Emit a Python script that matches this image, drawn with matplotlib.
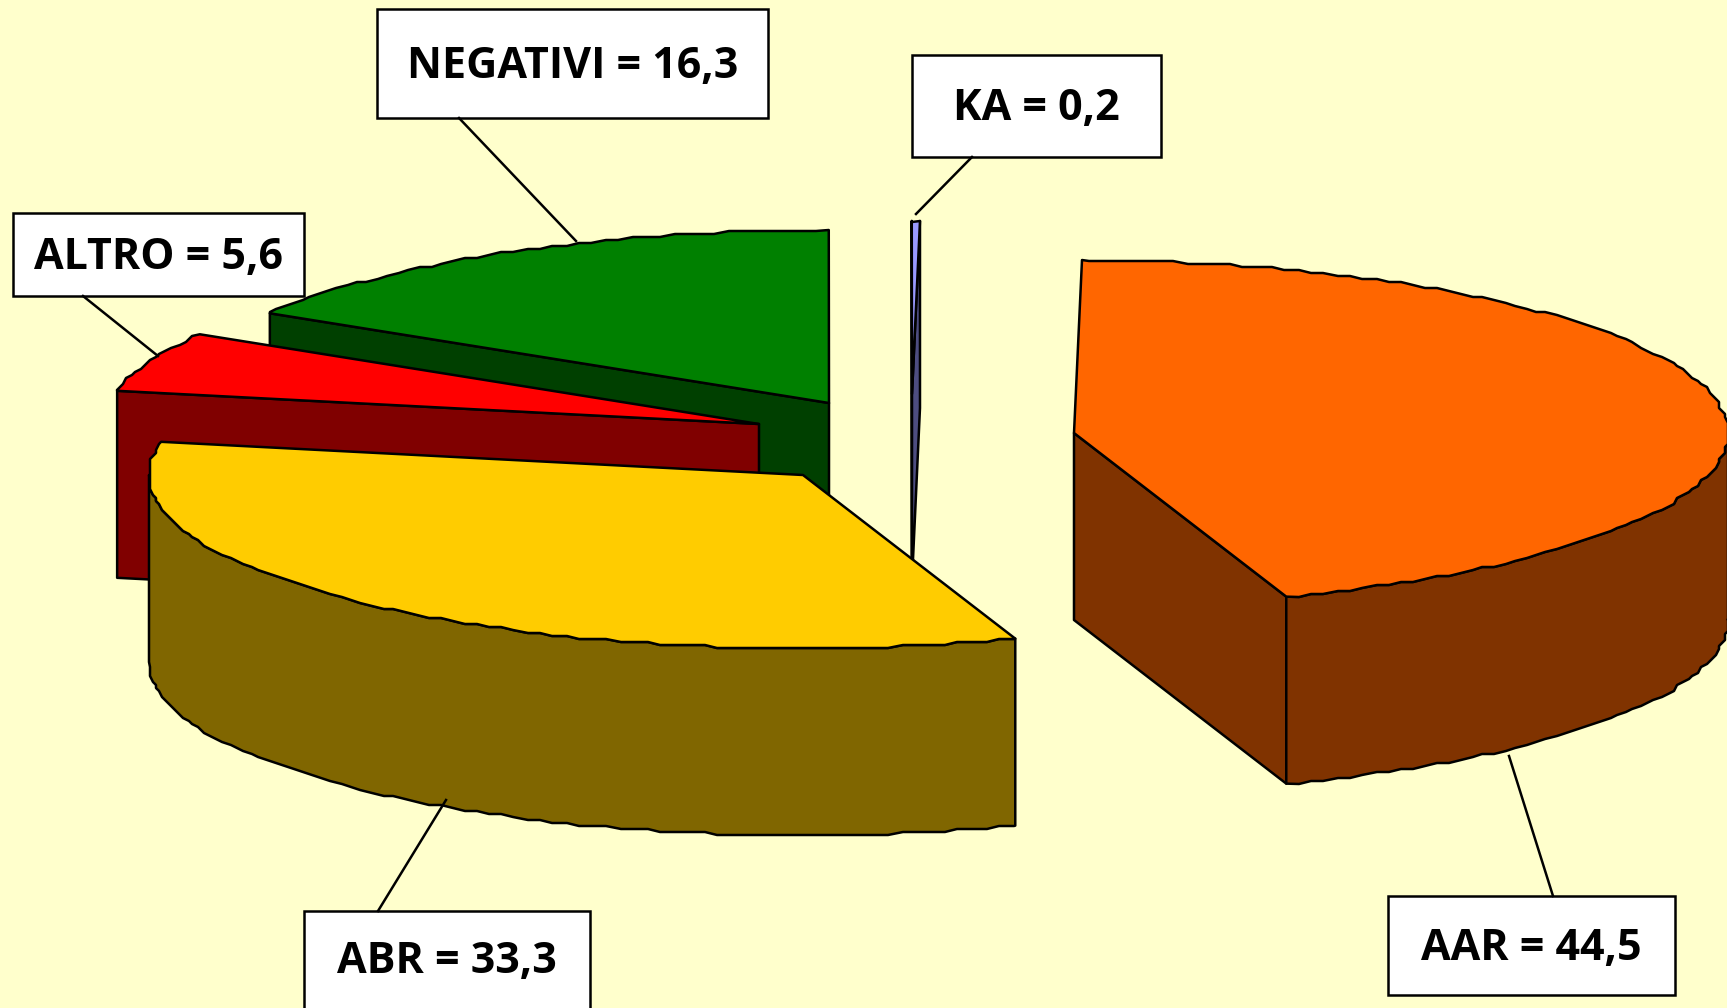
import matplotlib
matplotlib.use('Agg')
import matplotlib.pyplot as plt
import numpy as np

names = ['AAR', 'ABR', 'ALTRO', 'NEGATIVI', 'KA']
values = [44.5, 33.3, 5.6, 16.3, 0.2]
value_labels = ['44,5', '33,3', '5,6', '16,3', '0,2']

top_colors = ['#FF6600', '#FFCC00', '#FF0000', '#008000', '#9999FF']
side_colors = ['#803300', '#806600', '#800000', '#004000', '#4D4D80']

# exploded centres, pixels of the picture
centres = [(1074, 433), (803, 475), (759, 424), (829, 403), (912, 394)]
draw_order = [3, 2, 4, 1, 0]

# box x0, y0, x1, y1 and leader line from box to slice
boxes = [(1388, 896, 1675, 995), (304, 911, 590, 1020), (13, 213, 304, 296),
         (377, 9, 768, 118), (912, 55, 1161, 157)]
leaders = [((1553, 896), (1509, 756)), ((378, 911), (446, 800)), ((83, 296), (158, 356)),
           ((459, 118), (576, 241)), ((972, 157), (916, 214))]

rx = 654
ry = 173
depth = 187
start_angle = 0.7
grid = 3
line = 1.8


def rim_points(c, a0, a1):
    # clockwise from 12 o'clock, snapped to a grid so the edge is rough like the original
    inner = np.arange(np.ceil(a0 / 1.25) * 1.25, a1, 1.25)
    t = np.radians(np.concatenate(([a0], inner, [a1])))
    x = c[0] + rx * np.sin(t)
    y = c[1] - ry * np.cos(t)
    x[1:-1] = np.round(x[1:-1] / grid) * grid
    y[1:-1] = np.round(y[1:-1] / grid) * grid
    return x, y


def poly(ax, x, y, color):
    ax.fill(x, y, facecolor=color, edgecolor='black', linewidth=line, joinstyle='round')


fig = plt.figure(figsize=(17.27, 10.08), dpi=100, facecolor='#FFFFCC')
ax = fig.add_axes([0, 0, 1, 1])
ax.set_xlim(0, 1727)
ax.set_ylim(1008, 0)
ax.axis('off')

spans = np.array(values) / sum(values) * 360
starts = start_angle + np.concatenate(([0], np.cumsum(spans)[:-1]))

for i in draw_order:
    c = centres[i]
    a0 = starts[i]
    a1 = a0 + spans[i]
    # radial faces, only those turned to the viewer
    if np.sin(np.radians(a0)) < 0:
        ex = c[0] + rx * np.sin(np.radians(a0))
        ey = c[1] - ry * np.cos(np.radians(a0))
        poly(ax, [c[0], ex, ex, c[0]], [c[1], ey, ey + depth, c[1] + depth], side_colors[i])
    if np.sin(np.radians(a1)) > 0:
        ex = c[0] + rx * np.sin(np.radians(a1))
        ey = c[1] - ry * np.cos(np.radians(a1))
        poly(ax, [c[0], ex, ex, c[0]], [c[1], ey, ey + depth, c[1] + depth], side_colors[i])
    # outer wall
    r0 = max(a0, 90)
    r1 = min(a1, 270)
    if r1 > r0:
        x, y = rim_points(c, r0, r1)
        poly(ax, np.concatenate((x, x[::-1])), np.concatenate((y, y[::-1] + depth)), side_colors[i])
    # top
    x, y = rim_points(c, a0, a1)
    poly(ax, np.concatenate(([c[0]], x)), np.concatenate(([c[1]], y)), top_colors[i])

for i in range(len(names)):
    x0, y0, x1, y1 = boxes[i]
    ax.plot([leaders[i][0][0], leaders[i][1][0]], [leaders[i][0][1], leaders[i][1][1]],
            color='black', linewidth=line)
    ax.fill([x0, x1, x1, x0], [y0, y0, y1, y1], facecolor='white', edgecolor='black', linewidth=line)
    # centred on the box, the ABR box runs off the bottom of the picture
    ax.text((x0 + x1) / 2, (y0 + y1) / 2 + (-4 if i == 1 else 3), names[i] + ' = ' + value_labels[i],
            ha='center', va='center', fontsize=31, fontweight='bold', family='Open Sans', color='black')

fig.savefig('out.png', dpi=100, facecolor=fig.get_facecolor())
